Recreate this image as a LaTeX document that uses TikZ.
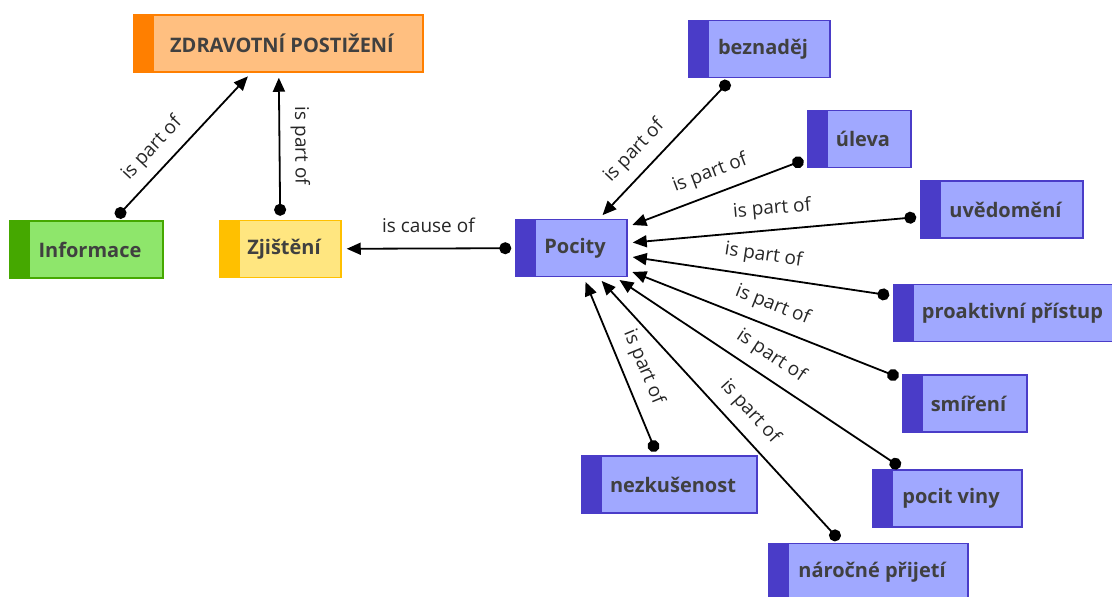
\documentclass[tikz,border=0pt]{standalone}
\usepackage{fontspec}
\setmainfont{Open Sans}
\usetikzlibrary{arrows.meta}

\definecolor{orangeline}{HTML}{FF7F00}
\definecolor{orangefill}{HTML}{FFBF80}
\definecolor{greenline}{HTML}{45A800}
\definecolor{greenfill}{HTML}{8EE66B}
\definecolor{yellowline}{HTML}{FFC000}
\definecolor{yellowfill}{HTML}{FFE680}
\definecolor{blueline}{HTML}{4A3CC8}
\definecolor{bluefill}{HTML}{A0A8FF}
\definecolor{boxtext}{HTML}{404040}

\tikzset{
  strip/.style={path picture={\fill[#1] (path picture bounding box.south west) rectangle ([xshift=20pt]path picture bounding box.north west);}},
  concept/.style={rectangle, minimum height=57pt, minimum width=#1, inner xsep=20pt,
    line width=1.5pt, text=boxtext, font=\fontsize{20}{24}\selectfont\bfseries,
    execute at begin node={\hspace{7pt}}},
  orangebox/.style={concept=#1, draw=orangeline, fill=orangefill, strip=orangeline},
  greenbox/.style={concept=#1, draw=greenline, fill=greenfill, strip=greenline},
  yellowbox/.style={concept=#1, draw=yellowline, fill=yellowfill, strip=yellowline},
  bluebox/.style={concept=#1, draw=blueline, fill=bluefill, strip=blueline},
  link/.style={line width=1.8pt, {Circle[length=12pt]}-{Triangle[length=14pt,width=12pt]},
    shorten <=4pt, shorten >=5pt},
  lbl/.style={sloped, above=11pt, inner sep=0pt, text depth=4pt, text=black!85,
    font=\fontsize{19}{22}\selectfont}
}

\begin{document}
\begin{tikzpicture}[x=1pt, y=-1pt]
  \useasboundingbox (0,0) rectangle (1112,597);

  \node[orangebox=289pt] (zdravotni) at (278.5,43.5) {ZDRAVOTNÍ POSTIŽENÍ};
  \node[greenbox=153pt] (informace) at (86.5,249.5) {Informace};
  \node[yellowbox=121pt] (zjisteni) at (280.5,249) {Zjištění};
  \node[bluebox=111pt] (pocity) at (571.5,248) {Pocity};

  \node[bluebox=141pt] (beznadej) at (759.5,49) {beznaděj};
  \node[bluebox=103pt] (uleva) at (859.5,139) {úleva};
  \node[bluebox=162pt] (uvedomeni) at (1002,209.5) {uvědomění};
  \node[bluebox=230pt] (proaktivni) at (1009,313) {proaktivní přístup};
  \node[bluebox=124pt] (smireni) at (965,403.5) {smíření};
  \node[bluebox=149pt] (pocitviny) at (947.5,498.5) {pocit viny};
  \node[bluebox=199pt] (narocne) at (868.5,572) {náročné přijetí};
  \node[bluebox=175pt] (nezkusenost) at (669.5,484.5) {nezkušenost};

  \draw[link] (informace) -- node[lbl, pos=0.39] {is part of} (zdravotni);
  \draw[link] (zjisteni) -- node[lbl] {is part of} (zdravotni);
  \draw[link] (pocity) -- node[lbl] {is cause of} (zjisteni);

  \draw[link] (beznadej) -- node[lbl, pos=0.62] {is part of} (pocity);
  \draw[link] (uleva) -- node[lbl] {is part of} (pocity);
  \draw[link] (uvedomeni) -- node[lbl] {is part of} (pocity);
  \draw[link] (proaktivni) -- node[lbl] {is part of} (pocity);
  \draw[link] (smireni) -- node[lbl] {is part of} (pocity);
  \draw[link] (pocitviny) -- node[lbl] {is part of} (pocity);
  \draw[link] (narocne) -- node[lbl, pos=0.44] {is part of} (pocity);
  \draw[link] (nezkusenost) -- node[lbl, pos=0.45] {is part of} (pocity);
\end{tikzpicture}
\end{document}
